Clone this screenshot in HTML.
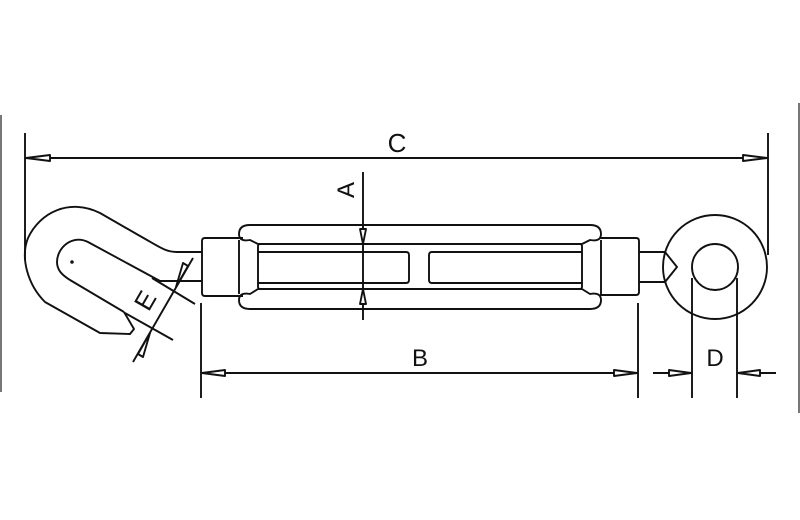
<!DOCTYPE html>
<html><head><meta charset="utf-8"><style>
html,body{margin:0;padding:0;background:#fff;}
svg{display:block;}
text{font-family:"Liberation Sans",sans-serif;fill:#111;}
</style></head><body>
<svg width="800" height="520" viewBox="0 0 800 520" xmlns="http://www.w3.org/2000/svg">
<g stroke="#777" stroke-width="2">
<line x1="1" y1="115" x2="1" y2="392"/>
<line x1="799" y1="103" x2="799" y2="413"/>
</g>
<g fill="none" stroke="#111" stroke-width="1.9" stroke-linejoin="round">
<line x1="25" y1="133" x2="25" y2="260"/>
<line x1="768" y1="133" x2="768" y2="255"/>
<line x1="25" y1="158" x2="768" y2="158"/>
<polygon points="26,158 50,155 50,161" fill="#fff"/>
<polygon points="767,158 743,155 743,161" fill="#fff"/>
<path d="M250,225 L590,225 Q601,225 601,234 Q601,242 590,240 L582,244 L258,244 L250,240 Q239,242 239,234 Q239,225 250,225 Z"/>
<path d="M250,309 L590,309 Q601,309 601,300 Q601,292 590,294 L582,289 L258,289 L250,294 Q239,292 239,300 Q239,309 250,309 Z"/>
<rect x="258" y="244" width="324" height="45" rx="2"/>
<path d="M258,252 L406,252 Q409,252 409,255 L409,280 Q409,283 406,283 L258,283"/>
<path d="M582,252 L432,252 Q429,252 429,255 L429,280 Q429,283 432,283 L582,283"/>
<path d="M243,238 L205,238 Q202,238 202,241 L202,293 Q202,296 205,296 L243,296"/>
<line x1="239" y1="240" x2="239" y2="294"/>
<path d="M600,238 L636,238 Q639,238 639,241 L639,292 Q639,295 636,295 L600,295"/>
<line x1="601" y1="240" x2="601" y2="294"/>
<path d="M639,252 L665,252 L677,267 L665,282 L639,282"/>
<circle cx="715" cy="267" r="52"/>
<circle cx="715" cy="267" r="23"/>
<path d="M202,252 L177,252 C165,252 158,246 140,236 L100,213 C70,198 40,212 28,238 C20,258 28,285 45,302 L100,333 L130,334 L134,329 L124,312"/>
<path d="M202,281 L160,281 L88,242 C72,234 57,248 57,262 C57,270 62,275 70,280 L124,312"/>
<circle cx="72" cy="262" r="0.8" fill="#111"/>
<line x1="152" y1="278" x2="195" y2="304"/>
<line x1="125" y1="313" x2="173" y2="340"/>
<line x1="193" y1="258" x2="133" y2="362"/>
<polygon points="176,287 188,266 183,263" fill="#fff"/>
<polygon points="150,333 138,354 143,357" fill="#fff"/>
<line x1="363" y1="172" x2="363" y2="320"/>
<polygon points="363,244 360,229 366,229" fill="#fff"/>
<polygon points="363,289 360,304 366,304" fill="#fff"/>
<line x1="201" y1="303" x2="201" y2="398"/>
<line x1="638" y1="303" x2="638" y2="398"/>
<line x1="201" y1="373" x2="638" y2="373"/>
<polygon points="202,373 225,370 225,376" fill="#fff"/>
<polygon points="637,373 614,370 614,376" fill="#fff"/>
<line x1="692" y1="278" x2="692" y2="398"/>
<line x1="737" y1="278" x2="737" y2="398"/>
<line x1="653" y1="373" x2="692" y2="373"/>
<line x1="737" y1="373" x2="776" y2="373"/>
<polygon points="691,373 669,370 669,376" fill="#fff"/>
<polygon points="738,373 760,370 760,376" fill="#fff"/>
</g>
<text x="397" y="152" font-size="26" text-anchor="middle">C</text>
<text x="420" y="366" font-size="24" text-anchor="middle">B</text>
<text x="715" y="366" font-size="24" text-anchor="middle">D</text>
<text transform="translate(354,190) rotate(-90)" font-size="24" text-anchor="middle">A</text>
<text transform="translate(153,305) rotate(-60)" font-size="26" text-anchor="middle">E</text>
</svg>
</body></html>
